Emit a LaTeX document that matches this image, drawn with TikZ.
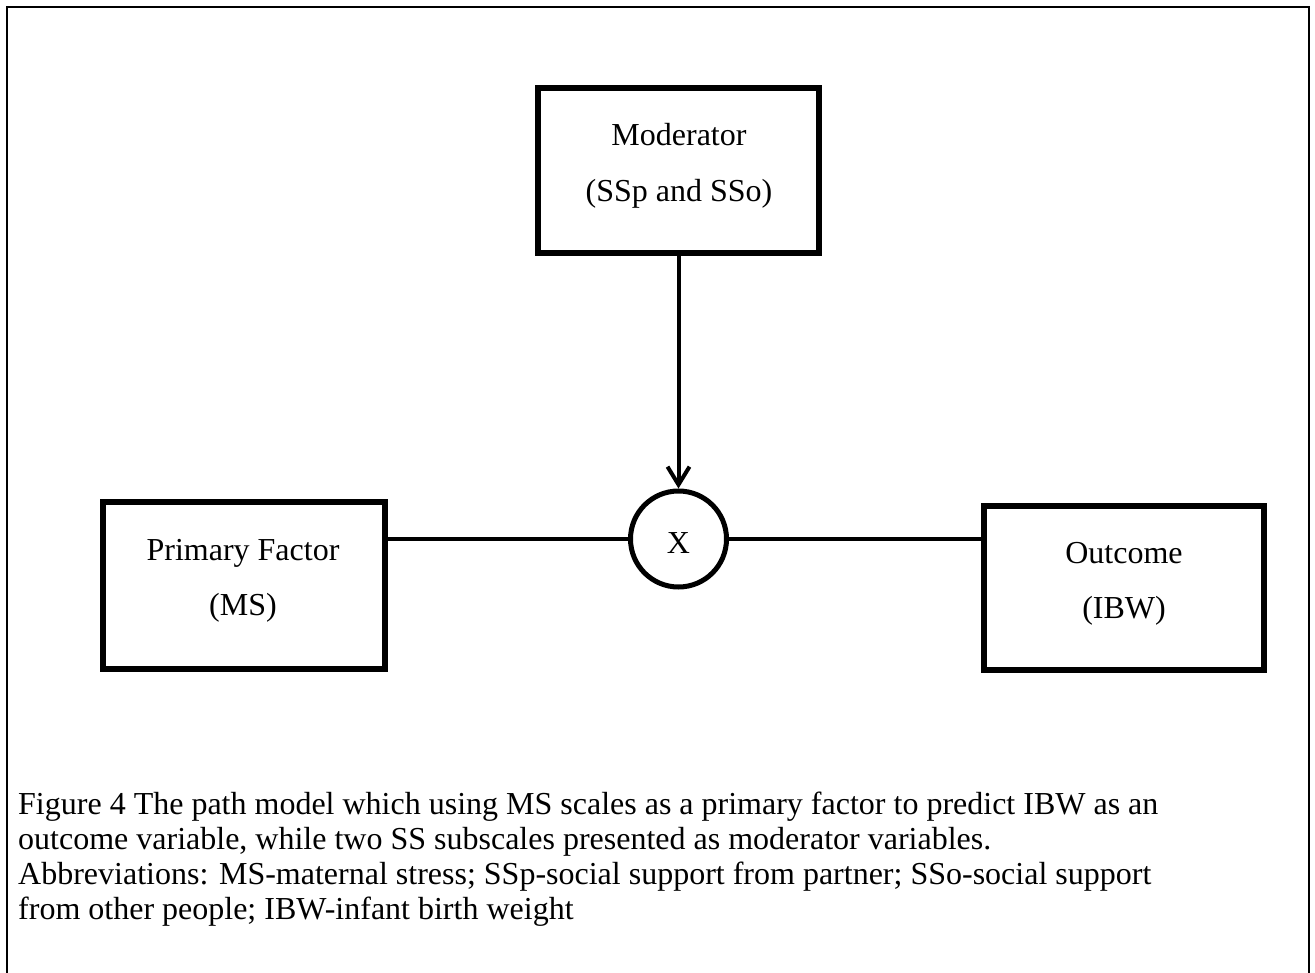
\documentclass[tikz,border=0pt]{standalone}
\usepackage{fontspec}
\setmainfont{Liberation Serif}
\usetikzlibrary{arrows.meta}
\begin{document}
\begin{tikzpicture}[x=1pt,y=-1pt,
  frameline/.style={line width=2pt,line cap=rect},
  varbox/.style={draw,line width=6pt,rectangle,inner sep=0pt},
  boxtext/.style={anchor=base,inner sep=0pt,font=\fontsize{32}{35}\selectfont},
  xcircle/.style={draw,line width=5pt,circle,inner sep=0pt,minimum size=96pt,text height=28pt,text depth=0pt,font=\fontsize{32}{35}\selectfont},
  link/.style={line width=4pt},
  modarrow/.style={line width=4pt,-{Straight Barb[length=18pt,width=22pt,line width=4pt]}},
  caption/.style={anchor=north west,inner sep=0pt,align=left,font=\fontsize{32}{35}\selectfont}]
\useasboundingbox (0,0) rectangle (1315,973);
% outer frame (bottom edge lies below the page)
\draw[frameline] (7.3,990) -- (7.3,7.3) -- (1309.3,7.3) -- (1309.3,990);
% boxes
\node[varbox,minimum width=281pt,minimum height=165pt] (mod) at (678.5,170.5) {};
\node[varbox,minimum width=282pt,minimum height=167pt] (pf) at (244,585.5) {};
\node[varbox,minimum width=280pt,minimum height=164pt] (out) at (1124,588) {};
\node[xcircle] (cx) at (678.5,539) {X};
% box texts
\node[boxtext] (modt1) at (679,146) {Moderator};
\node[boxtext] (modt2) at (679,202) {(SSp and SSo)};
\node[boxtext] (pft1) at (243,560) {Primary Factor};
\node[boxtext] (pft2) at (243,615) {(MS)};
\node[boxtext] (outt1) at (1124,563) {Outcome};
\node[boxtext] (outt2) at (1124,618) {(IBW)};
% connectors
\draw[link] (cx.west) -- (cx.west -| pf.east);
\draw[link] (cx.east) -- (cx.east -| out.west);
\draw[modarrow] (mod.south) -- (cx.north);
% caption
\node[caption] (cap) at (18,792) {Figure 4 The path model which using MS scales as a primary factor to predict IBW as an\\
outcome variable, while two SS subscales presented as moderator variables.\\
Abbreviations: MS-maternal stress; SSp-social support from partner; SSo-social support\\
from other people; IBW-infant birth weight};
\end{tikzpicture}
\end{document}
